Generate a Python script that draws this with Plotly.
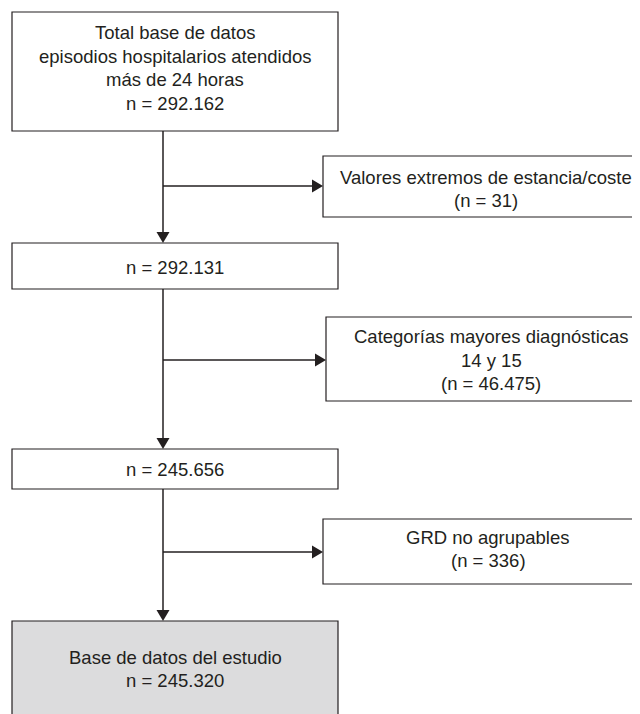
import plotly.graph_objects as go

# ---- content (data) ----
main_labels = [
    ["Total base de datos", "episodios hospitalarios atendidos", "más de 24 horas", "n = 292.162"],
    ["n = 292.131"],
    ["n = 245.656"],
    ["Base de datos del estudio", "n = 245.320"],
]
excl_labels = [
    ["Valores extremos de estancia/coste", "(n = 31)"],
    ["Categorías mayores diagnósticas", "14 y 15", "(n = 46.475)"],
    ["GRD no agrupables", "(n = 336)"],
]

# ---- layout geometry (page pixels) ----
W, H = 640, 714
OFF = 8  # default page body margin
main_x = (12, 338)
main_y = [(12, 131), (243, 289), (449, 489), (621, 730)]
main_text_cy = [68, 267, 469, 669]
main_fill = ["white", "white", "white", "#dcdcdd"]
excl_x0 = [323, 326, 323]
excl_y = [(156, 217), (317, 401), (519, 584)]
excl_text_cx = [486, 491, 488]
excl_text_cy = [189, 360, 549]
branch_y = [186, 360, 552]
spine_x = 163
line_gap = 23.5
font = dict(family="Liberation Sans, Arial, sans-serif", size=18.5, color="#231f20")
ink = "#231f20"

shapes = []
annotations = []

def add_lines(lines, cx, cy):
    n = len(lines)
    for i, t in enumerate(lines):
        y = cy + (i - (n - 1) / 2) * line_gap
        annotations.append(dict(x=cx, y=y, xref="x", yref="y", text=t, showarrow=False,
                                font=font, xanchor="center", yanchor="middle"))

def tri_down(x, ytip, h=11, w=6.5):
    return dict(type="path", path=f"M {x-w} {ytip-h} L {x+w} {ytip-h} L {x} {ytip} Z",
                xref="x", yref="y", fillcolor=ink, line=dict(width=0))

def tri_right(xtip, y, h=11, w=6.5):
    return dict(type="path", path=f"M {xtip-h} {y-w} L {xtip-h} {y+w} L {xtip} {y} Z",
                xref="x", yref="y", fillcolor=ink, line=dict(width=0))

# main boxes
for (y0, y1), lines, cy, fill in zip(main_y, main_labels, main_text_cy, main_fill):
    shapes.append(dict(type="rect", x0=main_x[0], x1=main_x[1], y0=y0, y1=y1, xref="x", yref="y",
                       line=dict(color=ink, width=1.2), fillcolor=fill, layer="below"))
    add_lines(lines, (main_x[0] + main_x[1]) / 2, cy)

# exclusion boxes
for x0, (y0, y1), lines, cx, cy in zip(excl_x0, excl_y, excl_labels, excl_text_cx, excl_text_cy):
    shapes.append(dict(type="rect", x0=x0, x1=W + 20, y0=y0, y1=y1, xref="x", yref="y",
                       line=dict(color=ink, width=1.2), fillcolor="white", layer="below"))
    add_lines(lines, cx, cy)

# connectors with arrowheads
for i in range(len(main_y) - 1):
    ytop = main_y[i][1]
    ybot = main_y[i + 1][0]
    shapes.append(dict(type="line", x0=spine_x, x1=spine_x, y0=ytop, y1=ybot - 8, xref="x", yref="y",
                       line=dict(color=ink, width=1.5)))
    shapes.append(tri_down(spine_x, ybot))
    by = branch_y[i]
    shapes.append(dict(type="line", x0=spine_x, x1=excl_x0[i] - 8, y0=by, y1=by, xref="x", yref="y",
                       line=dict(color=ink, width=1.5)))
    shapes.append(tri_right(excl_x0[i], by))

fig = go.Figure()
fig.update_layout(
    width=W - OFF, height=H - OFF, margin=dict(l=0, r=0, t=0, b=0),
    paper_bgcolor="white", plot_bgcolor="white",
    xaxis=dict(range=[OFF, W], visible=False, fixedrange=True),
    yaxis=dict(range=[H, OFF], visible=False, fixedrange=True),
    shapes=shapes, annotations=annotations, showlegend=False,
)
fig.write_html("out.html")
